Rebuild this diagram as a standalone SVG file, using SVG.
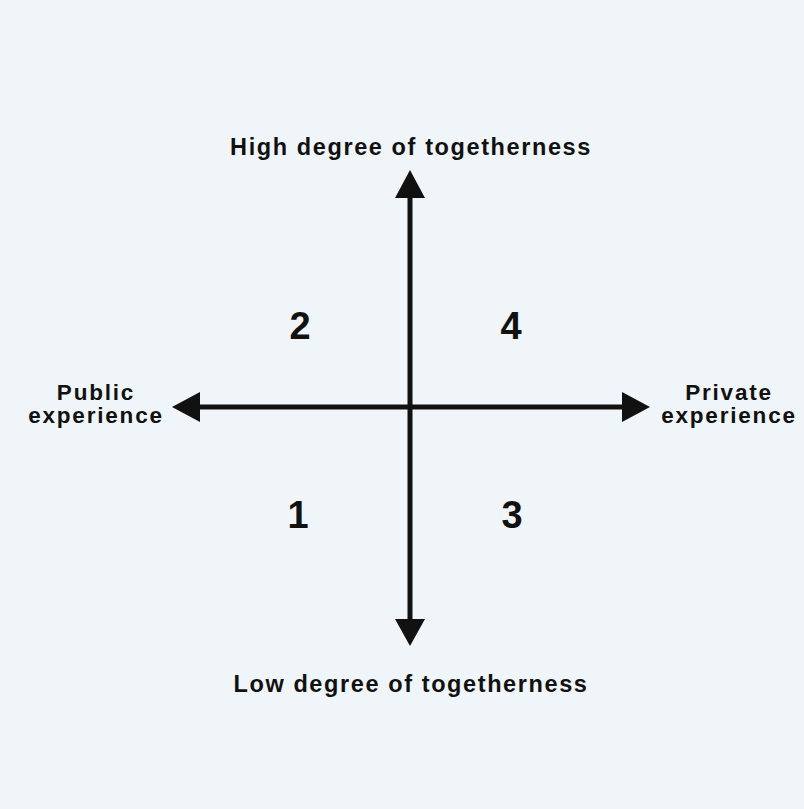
<svg xmlns="http://www.w3.org/2000/svg" width="804" height="809" viewBox="0 0 804 809">
<style>
.lbl{font-family:"Liberation Sans",Arial,sans-serif;font-weight:bold;font-size:23.5px;letter-spacing:1.6px;fill:#111;text-anchor:middle}
.side{font-size:22.5px;letter-spacing:1.8px}
.num{font-family:"Liberation Sans",Arial,sans-serif;font-weight:bold;font-size:38px;fill:#111;text-anchor:middle}
.ax{stroke:#111;stroke-width:5;fill:none}
</style>
<rect x="0" y="0" width="804" height="809" fill="#f0f5f9"/>
<g id="connectors">
<line class="ax" x1="410" y1="195" x2="410" y2="622"/>
<line class="ax" x1="198" y1="407" x2="624" y2="407"/>
<polygon points="410,170 395,198 425,198" fill="#111"/>
<polygon points="410,646 395,619 425,619" fill="#111"/>
<polygon points="172,407 200,392 200,422" fill="#111"/>
<polygon points="650,407 622,392 622,422" fill="#111"/>
</g>
<g id="top-label"><text class="lbl" x="411" y="155">High degree of togetherness</text></g>
<g id="bottom-label"><text class="lbl" x="411" y="692">Low degree of togetherness</text></g>
<g id="left-label"><text class="lbl side" x="96" y="400">Public</text><text class="lbl side" x="96" y="423">experience</text></g>
<g id="right-label"><text class="lbl side" x="729" y="400">Private</text><text class="lbl side" x="729" y="423">experience</text></g>
<g id="q2"><text class="num" x="300" y="339">2</text></g>
<g id="q4"><text class="num" x="511" y="339">4</text></g>
<g id="q1"><text class="num" x="298" y="528">1</text></g>
<g id="q3"><text class="num" x="512" y="528">3</text></g>
</svg>
